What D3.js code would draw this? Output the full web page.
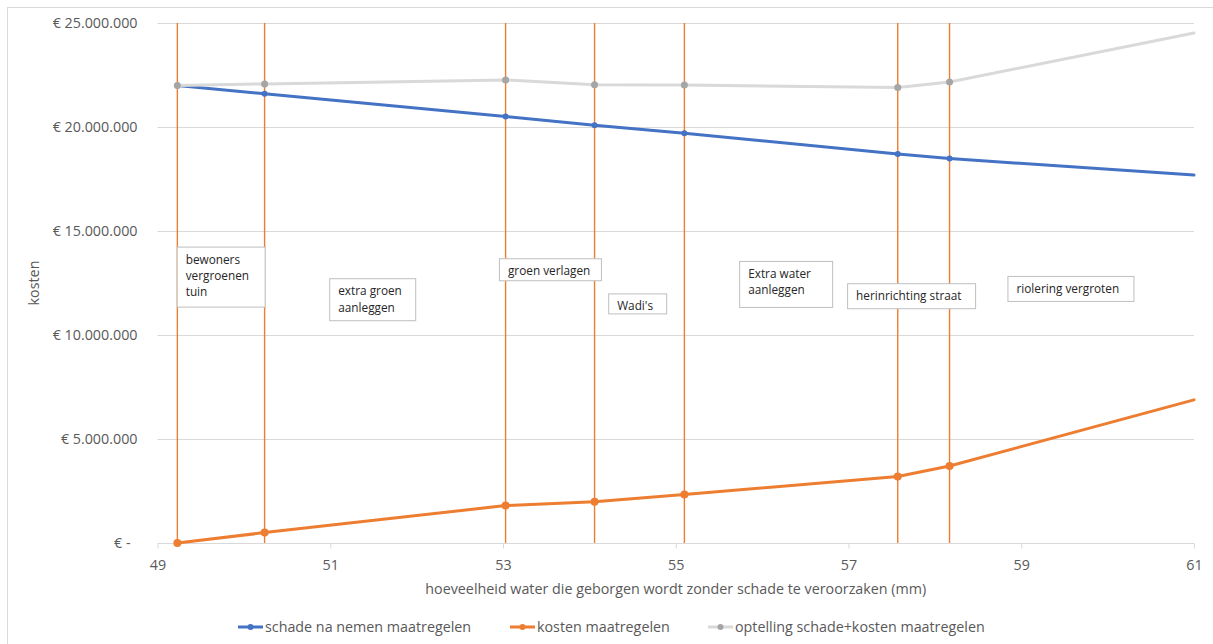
<!DOCTYPE html>
<html>
<head>
<meta charset="utf-8">
<script src="https://cdn.jsdelivr.net/npm/d3@7"></script>
<style>
  html, body { margin: 0; padding: 0; background: #fff; }
  svg { display: block; font-family: "Open Sans", "Liberation Sans", sans-serif; }
</style>
</head>
<body>
<svg id="chart" width="1213" height="644"></svg>
<script>
// Water retained without damage (mm) for each measure step
const waterMm = [49.23, 50.24, 53.03, 54.06, 55.10, 57.57, 58.17, 61];
// Remaining damage after taking the measures (€)
const schade = [22000000, 21600000, 20500000, 20080000, 19700000, 18700000, 18480000, 17690000];
// Cost of the measures (€)
const kosten = [0, 500000, 1800000, 1980000, 2330000, 3200000, 3700000, 6880000];
// Damage + costs (€)
const optelling = [22000000, 22070000, 22260000, 22030000, 22020000, 21900000, 22160000, 24520000];

const xTicks = [49, 51, 53, 55, 57, 59, 61];
const yTicks = [0, 5000000, 10000000, 15000000, 20000000, 25000000];

const seriesNames = ["schade na nemen maatregelen", "kosten maatregelen", "optelling schade+kosten maatregelen"];

// Measures, one per vertical marker line (first seven steps)
const measureLabels = [
  ["bewoners", "vergroenen", "tuin"],
  ["extra groen", "aanleggen"],
  ["groen verlagen"],
  ["Wadi's"],
  ["Extra water", "aanleggen"],
  ["herinrichting straat"],
  ["riolering vergroten"]
];

// Label box anchors in chart units (mm, €) plus box size in px
const labelBoxes = [
  { x: 49.222, y: 14250000, w: 88, h: 60 },
  { x: 50.988, y: 12730000, w: 86, h: 42 },
  { x: 52.953, y: 13690000, w: 102, h: 22 },
  { x: 54.218, y: 12000000, w: 58, h: 20 },
  { x: 55.734, y: 13560000, w: 93, h: 46 },
  { x: 56.984, y: 12490000, w: 128, h: 25 },
  { x: 58.840, y: 12840000, w: 126, h: 25 }
];

const colors = { blue: "#4472C4", orange: "#ED7D31", greyLine: "#D9D9D9", greyMarker: "#A5A5A5" };

const svg = d3.select("#chart");
const W = 1213, H = 644;
const plot = { left: 157.5, right: 1194, top: 23, bottom: 543 };
const axisFont = "14.3px";

// outer chart border
svg.append("rect").attr("x", 7.5).attr("y", 7.5).attr("width", W + 10).attr("height", H + 10)
  .attr("fill", "#fff").attr("stroke", "#D9D9D9").attr("stroke-width", 1);

const x = d3.scaleLinear().domain([49, 61]).range([plot.left, plot.right]);
const y = d3.scaleLinear().domain([0, 25000000]).range([plot.bottom, plot.top]);

const euro = v => v === 0 ? "€ -" : "€ " + d3.format(",")(v).replace(/,/g, ".");

// horizontal gridlines
svg.append("g").selectAll("line").data(yTicks.filter(d => d > 0)).join("line")
  .attr("x1", plot.left).attr("x2", plot.right)
  .attr("y1", d => Math.round(y(d)) + 0.5).attr("y2", d => Math.round(y(d)) + 0.5)
  .attr("stroke", "#D9D9D9").attr("stroke-width", 1);

// y axis labels
const yAxis = svg.append("g").attr("transform", `translate(${plot.left},0)`)
  .call(d3.axisLeft(y).tickValues(yTicks).tickFormat(euro).tickSize(0).tickPadding(20));
yAxis.select(".domain").remove();
yAxis.selectAll("text").attr("fill", "#595959").style("font-size", axisFont)
  .style("font-family", "'Open Sans', sans-serif")
  .attr("dx", d => d === 0 ? -7 : 0);

// x axis
const xAxis = svg.append("g").attr("transform", `translate(0,${plot.bottom + 0.5})`)
  .call(d3.axisBottom(x).tickValues(xTicks).tickFormat(d3.format("d")).tickSize(5).tickPadding(11));
xAxis.select(".domain").attr("stroke", "#D9D9D9").attr("d", `M${plot.left},0H${plot.right}`);
xAxis.selectAll(".tick line").attr("stroke", "#D9D9D9");
xAxis.selectAll("text").attr("fill", "#595959").style("font-size", axisFont)
  .style("font-family", "'Open Sans', sans-serif");

// axis titles
svg.append("text").attr("x", (plot.left + plot.right) / 2).attr("y", 594)
  .attr("text-anchor", "middle").attr("fill", "#595959").style("font-size", axisFont)
  .text("hoeveelheid water die geborgen wordt zonder schade te veroorzaken (mm)");
svg.append("text").attr("transform", `translate(39,${(plot.top + plot.bottom) / 2}) rotate(-90)`)
  .attr("text-anchor", "middle").attr("fill", "#595959").style("font-size", axisFont)
  .text("kosten");

// vertical lines at each measure step
svg.append("g").selectAll("line").data(waterMm.slice(0, 7)).join("line")
  .attr("x1", d => x(d)).attr("x2", d => x(d))
  .attr("y1", plot.top).attr("y2", plot.bottom)
  .attr("stroke", colors.orange).attr("stroke-width", 1.4);

// series
const series = [
  { name: seriesNames[0], values: schade, line: colors.blue, marker: colors.blue, r: 3 },
  { name: seriesNames[1], values: kosten, line: colors.orange, marker: colors.orange, r: 4 },
  { name: seriesNames[2], values: optelling, line: colors.greyLine, marker: colors.greyMarker, r: 3.5 }
];
const lineGen = d3.line().x(d => x(d[0])).y(d => y(d[1]));
series.forEach(s => {
  const pts = waterMm.map((w, i) => [w, s.values[i]]);
  svg.append("path").datum(pts).attr("d", lineGen)
    .attr("fill", "none").attr("stroke", s.line).attr("stroke-width", 3)
    .attr("stroke-linejoin", "round").attr("stroke-linecap", "round");
  svg.append("g").selectAll("circle").data(pts.slice(0, 7)).join("circle")
    .attr("cx", d => x(d[0])).attr("cy", d => y(d[1])).attr("r", s.r)
    .attr("fill", s.marker);
});

// measure label boxes
labelBoxes.forEach((b, i) => {
  const g = svg.append("g").attr("transform", `translate(${x(b.x)},${y(b.y)})`);
  g.append("rect").attr("x", 0.5).attr("y", 0.5).attr("width", b.w).attr("height", b.h)
    .attr("fill", "#fff").attr("stroke", "#BFBFBF").attr("stroke-width", 1);
  g.selectAll("text").data(measureLabels[i]).join("text")
    .attr("x", 9).attr("y", (d, j) => 17 + j * 16.3)
    .attr("fill", "#262626").style("font-size", "11.8px")
    .style("font-family", "'Open Sans', sans-serif")
    .text(d => d);
});

// legend
const legendPos = [238, 510, 708];
series.forEach((s, i) => {
  const g = svg.append("g").attr("transform", `translate(${legendPos[i]},627)`);
  g.append("line").attr("x1", 0).attr("x2", 25).attr("y1", 0).attr("y2", 0)
    .attr("stroke", s.line).attr("stroke-width", 3);
  g.append("circle").attr("cx", 12.5).attr("cy", 0).attr("r", 3).attr("fill", s.marker);
  g.append("text").attr("x", 27).attr("y", 5).attr("fill", "#595959")
    .style("font-size", axisFont).text(s.name);
});
</script>
</body>
</html>
